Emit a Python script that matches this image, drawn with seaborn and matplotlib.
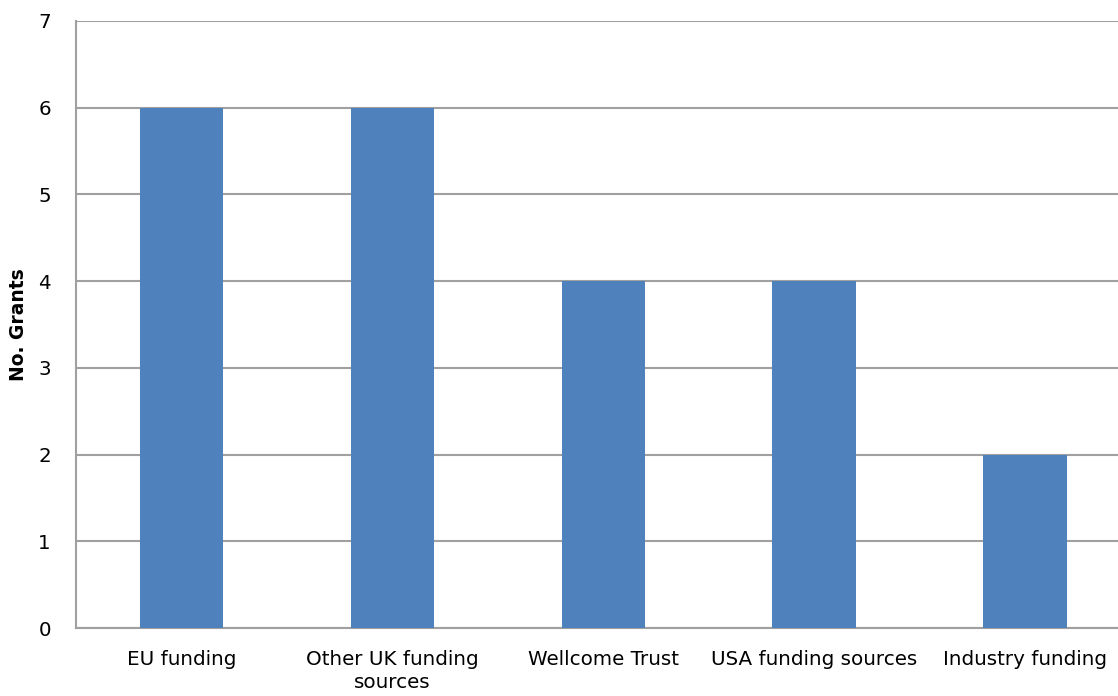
import matplotlib
matplotlib.use("Agg")
import matplotlib.pyplot as plt
import seaborn as sns
import pandas as pd

# Grant counts by funding source
categories = ["EU funding", "Other UK funding\nsources", "Wellcome Trust",
              "USA funding sources", "Industry funding"]
grants = [6, 6, 4, 4, 2]
y_ticks = [0, 1, 2, 3, 4, 5, 6, 7]

sns.set_theme(style="white")
plt.rcParams["font.family"] = ["DejaVu Sans"]

df = pd.DataFrame({"source": categories, "grants": grants})

fig = plt.figure(figsize=(11.18, 6.96), dpi=100)
ax = fig.add_axes([76 / 1118, 1 - 628 / 696, 1 - 76 / 1118, (628 - 21) / 696])

sns.barplot(data=df, x="source", y="grants", color="#4F81BD", saturation=1,
            width=0.395, linewidth=0, ax=ax, zorder=3)

grid_color = "#A0A0A0"
ax.set_ylim(0, 7)
ax.set_yticks(y_ticks)
ax.yaxis.grid(True, color=grid_color, linewidth=1.5, zorder=0)
ax.set_axisbelow(True)
ax.set_xlim(-0.5, (1118 - 75.5) / 211 - 0.5)

for side in ["top", "right"]:
    ax.spines[side].set_visible(False)
for side in ["left", "bottom"]:
    ax.spines[side].set_color(grid_color)
    ax.spines[side].set_linewidth(1.5)

ax.tick_params(axis="both", length=0, labelsize=14.3, colors="black")
ax.tick_params(axis="y", pad=18)
ax.tick_params(axis="x", pad=16)
for lbl in ax.get_xticklabels():
    lbl.set_linespacing(1.25)
ax.set_xlabel("")
ax.set_ylabel("No. Grants", fontsize=13.5, fontweight="bold", color="black")
ax.yaxis.set_label_coords(-(76 - 9) / 1042, 0.5)
ax.yaxis.label.set_va("top")

fig.savefig("out.png", dpi=100)
